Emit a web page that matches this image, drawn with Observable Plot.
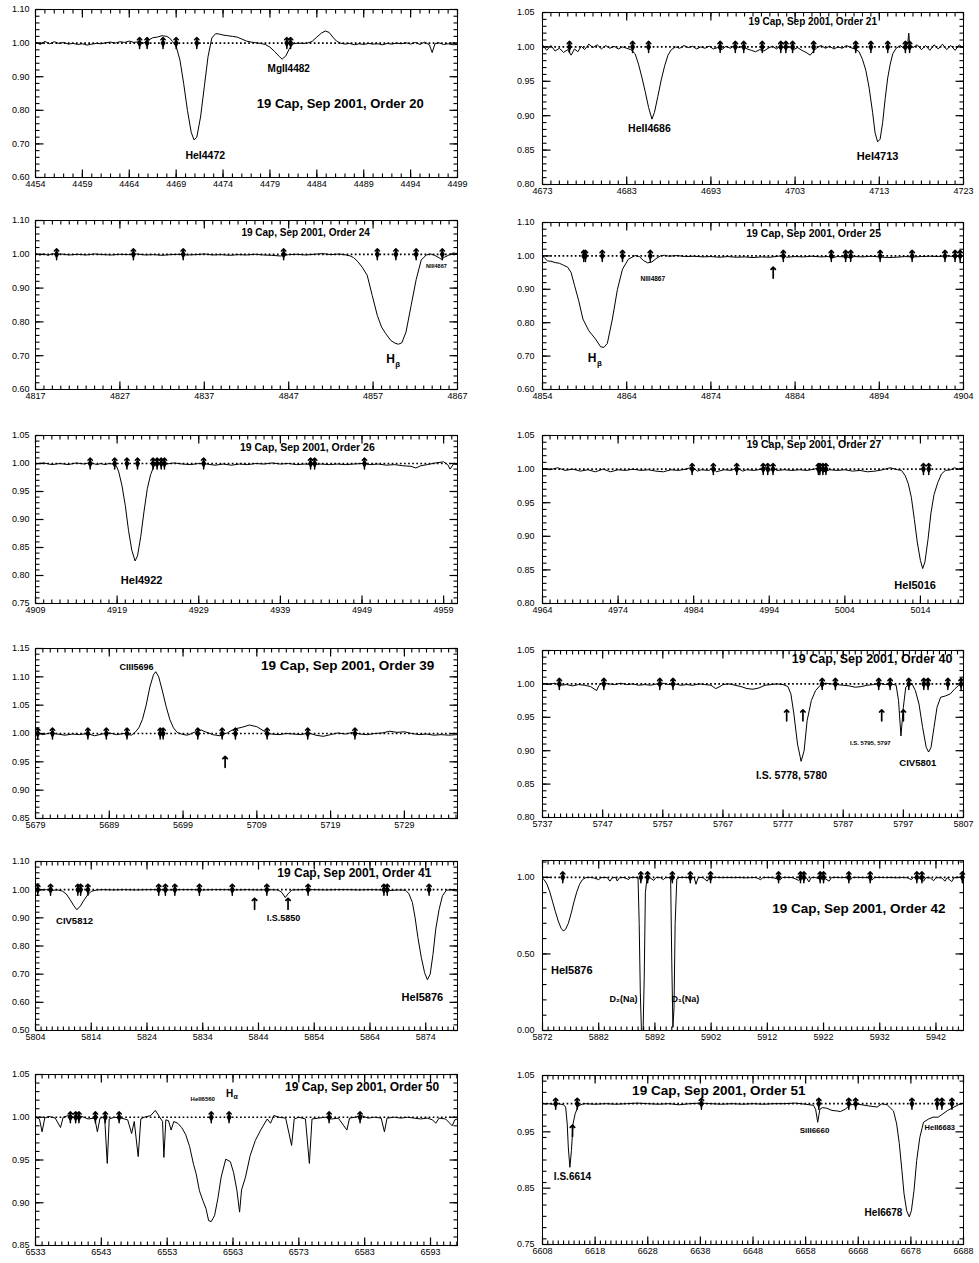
<!DOCTYPE html>
<html><head><meta charset="utf-8">
<script src="https://cdn.jsdelivr.net/npm/d3@7"></script>
<script src="https://cdn.jsdelivr.net/npm/@observablehq/plot@0.6"></script>
<style>
body{margin:0;background:#fff;}
#wrap{position:relative;width:979px;height:1263px;background:#fff;overflow:hidden;}
#wrap > div{position:absolute;}
</style></head><body><div id="wrap"></div>
<script>
// ---------- spectra: [wavelength (Å), normalized flux] ----------
const order20 = [[4454,1.003],[4454.5,0.996],[4455,1.005],[4455.5,0.998],[4456,1.004],[4456.5,0.999],[4457,1.002],[4457.5,0.997],[4458,0.999],[4458.5,0.996],[4459,0.998],[4459.5,0.994],[4460,0.997],[4460.5,0.999],[4461,0.998],[4461.5,1.001],[4462,1.003],[4462.5,1.0],[4463,1.004],[4463.5,1.002],[4464,1.006],[4464.5,1.002],[4465,1.004],[4465.5,1.0],[4466,1.008],[4466.5,1.016],[4467,1.018],[4467.5,1.022],[4468,1.02],[4468.3,1.015],[4468.6,1.005],[4469,0.99],[4469.4,0.95],[4469.8,0.88],[4470.2,0.8],[4470.6,0.735],[4470.9,0.712],[4471.2,0.72],[4471.6,0.78],[4472,0.87],[4472.4,0.96],[4472.8,1.015],[4473.2,1.028],[4473.6,1.027],[4474,1.024],[4474.5,1.022],[4475,1.02],[4475.5,1.018],[4476,1.012],[4476.5,1.006],[4477,1.003],[4477.5,1.001],[4478,0.999],[4478.5,0.996],[4479,0.988],[4479.5,0.975],[4480,0.96],[4480.3,0.952],[4480.7,0.962],[4481.1,0.985],[4481.5,0.998],[4482,1.0],[4482.5,0.999],[4483,1.0],[4483.5,1.005],[4484,1.018],[4484.5,1.03],[4484.9,1.036],[4485.3,1.032],[4485.7,1.018],[4486.1,1.006],[4486.5,1.0],[4487,0.997],[4487.5,0.999],[4488,0.995],[4488.5,0.998],[4489,0.996],[4489.5,0.999],[4490,0.997],[4490.5,0.998],[4491,0.995],[4491.5,0.999],[4492,0.997],[4492.5,1.0],[4493,0.998],[4493.5,1.001],[4494,0.997],[4494.5,1.002],[4495,0.996],[4495.5,1.003],[4496,0.995],[4496.3,0.972],[4496.6,0.998],[4497,1.001],[4497.5,0.996],[4498,0.998],[4498.5,0.995],[4499,0.996]];
const order21 = [[4673,1.003],[4673.5,0.995],[4674,1.002],[4674.5,0.994],[4675,0.998],[4675.5,0.992],[4676,0.996],[4676.4,0.988],[4676.8,0.997],[4677.2,0.993],[4677.6,1.001],[4678,0.996],[4678.5,1.004],[4679,0.999],[4679.5,1.003],[4680,0.997],[4680.5,1.002],[4681,0.998],[4681.5,1.001],[4682,0.997],[4682.5,1.0],[4683,0.998],[4683.5,0.996],[4684,0.99],[4684.4,0.975],[4684.8,0.956],[4685.2,0.935],[4685.6,0.912],[4686,0.895],[4686.3,0.905],[4686.7,0.928],[4687.1,0.952],[4687.5,0.972],[4687.9,0.988],[4688.3,0.996],[4688.8,1.0],[4689.3,0.998],[4689.8,1.002],[4690.3,0.999],[4690.8,1.001],[4691.3,0.997],[4691.8,1.0],[4692.3,0.998],[4692.8,1.001],[4693.3,0.997],[4693.8,0.999],[4694.3,0.996],[4694.8,1.001],[4695.3,0.998],[4695.8,1.002],[4696.3,0.999],[4696.8,1.001],[4697.3,0.997],[4697.8,0.995],[4698.3,0.993],[4698.8,0.996],[4699.3,0.994],[4699.8,0.998],[4700.3,1.001],[4700.8,0.997],[4701.3,1.002],[4701.8,0.998],[4702.3,1.0],[4702.8,0.996],[4703.3,0.999],[4703.8,0.995],[4704.3,0.992],[4704.8,0.988],[4705.2,0.994],[4705.6,0.999],[4706.1,1.002],[4706.6,0.998],[4707.1,1.001],[4707.6,0.997],[4708.1,1.0],[4708.6,0.998],[4709.1,1.002],[4709.6,0.999],[4710.1,0.997],[4710.6,0.993],[4711,0.982],[4711.4,0.966],[4711.8,0.94],[4712.2,0.905],[4712.5,0.875],[4712.8,0.862],[4713.1,0.866],[4713.4,0.89],[4713.7,0.925],[4714,0.955],[4714.3,0.975],[4714.6,0.99],[4715,0.998],[4715.5,1.002],[4716,0.997],[4716.4,1.008],[4716.5,1.02],[4716.6,1.004],[4717,0.999],[4717.5,1.003],[4718,0.996],[4718.5,1.002],[4719,0.995],[4719.5,1.003],[4720,0.997],[4720.5,1.004],[4721,0.996],[4721.5,1.002],[4722,0.995],[4722.5,1.003],[4723,0.998]];
const order24 = [[4817,1.002],[4817.5,0.998],[4818,1.001],[4818.5,0.997],[4819,1.002],[4819.5,0.999],[4820,1.001],[4821,0.998],[4822,1.0],[4823,0.998],[4824,1.001],[4825,0.999],[4826,0.998],[4827,1.0],[4828,0.999],[4829,1.001],[4830,0.998],[4831,0.999],[4832,0.997],[4833,0.999],[4834,1.0],[4835,0.998],[4836,0.999],[4837,1.001],[4838,0.998],[4839,0.999],[4840,0.997],[4841,0.999],[4842,0.998],[4843,1.0],[4844,0.998],[4845,0.997],[4846,0.995],[4846.5,0.997],[4847,0.999],[4848,1.0],[4849,0.998],[4850,1.0],[4851,1.002],[4852,0.999],[4853,1.001],[4853.8,0.998],[4854.3,0.995],[4854.7,0.99],[4855.2,0.978],[4855.7,0.962],[4856.3,0.938],[4856.9,0.878],[4857.5,0.819],[4858,0.785],[4858.5,0.765],[4859.1,0.745],[4859.6,0.737],[4860,0.734],[4860.4,0.738],[4860.9,0.77],[4861.5,0.848],[4862.1,0.925],[4862.7,0.983],[4863.3,0.998],[4863.8,1.001],[4864.3,0.997],[4864.8,0.99],[4865.1,0.985],[4865.5,0.992],[4866,0.998],[4866.5,1.004],[4867,1.002]];
const order25 = [[4854,1.0],[4854.3,0.992],[4854.6,0.985],[4855,0.984],[4855.5,0.98],[4856,0.978],[4856.5,0.972],[4857,0.966],[4857.4,0.95],[4857.8,0.912],[4858.3,0.866],[4858.8,0.811],[4859.5,0.776],[4860.3,0.751],[4860.9,0.728],[4861.3,0.726],[4861.7,0.738],[4862.3,0.811],[4862.9,0.9],[4863.5,0.96],[4864.2,0.99],[4865,1.001],[4865.5,0.998],[4866,0.986],[4866.5,0.979],[4867,0.982],[4867.5,0.992],[4868,1.0],[4868.5,1.002],[4869,0.999],[4870,1.001],[4871,0.998],[4872,0.999],[4873,0.997],[4874,0.998],[4875,0.996],[4876,0.998],[4877,0.996],[4878,0.997],[4879,0.995],[4880,0.997],[4881,0.996],[4882,0.999],[4882.6,1.001],[4883,0.996],[4884,0.998],[4885,0.997],[4886,0.999],[4887,0.997],[4888,0.998],[4888.5,0.995],[4889,0.998],[4890,0.997],[4890.6,0.994],[4891,0.998],[4892,0.997],[4893,0.999],[4894,0.997],[4895,0.995],[4896,0.996],[4897,0.998],[4898,0.997],[4899,0.998],[4900,0.999],[4901,0.998],[4902,1.0],[4903,0.998],[4904,1.0]];
const order26 = [[4909,0.999],[4910,1.001],[4911,0.998],[4912,1.0],[4913,0.998],[4914,1.001],[4915,0.999],[4915.7,1.002],[4916.5,0.998],[4917,1.0],[4917.5,0.998],[4918,1.0],[4918.5,0.999],[4918.9,0.996],[4919.2,0.985],[4919.6,0.96],[4920,0.925],[4920.4,0.88],[4920.8,0.845],[4921.2,0.826],[4921.5,0.835],[4921.9,0.87],[4922.3,0.915],[4922.7,0.955],[4923.1,0.98],[4923.5,0.995],[4924,1.0],[4924.5,1.002],[4925,0.999],[4926,1.001],[4927,0.999],[4928,0.998],[4929,1.0],[4930,0.999],[4931,0.997],[4932,0.999],[4933,0.997],[4934,0.999],[4935,0.998],[4936,1.0],[4937,0.999],[4938,1.001],[4939,0.999],[4940,1.0],[4941,0.998],[4942,0.999],[4943,0.998],[4944,0.999],[4945,0.998],[4946,0.999],[4947,0.998],[4948,0.999],[4949,1.0],[4950,0.998],[4951,0.999],[4952,0.997],[4953,0.998],[4954,0.996],[4955,0.995],[4955.6,0.992],[4956.2,0.996],[4957,0.998],[4958,1.001],[4959,1.003],[4959.5,0.998],[4959.8,0.99],[4960.2,0.999],[4960.7,0.998]];
const order27 = [[4964,1.001],[4965,0.999],[4966,1.002],[4967,0.998],[4968,1.0],[4969,0.997],[4970,0.999],[4971,0.996],[4972,1.0],[4973,0.996],[4974,0.999],[4975,0.998],[4976,1.0],[4977,0.998],[4978,0.999],[4979,0.997],[4980,0.996],[4981,0.999],[4982,0.998],[4983,1.0],[4983.8,1.003],[4984.5,0.997],[4985,0.999],[4986,0.998],[4986.6,1.002],[4987,0.996],[4988,0.999],[4989,0.998],[4989.7,1.002],[4990.5,0.997],[4991,0.999],[4992,0.998],[4993,1.0],[4993.5,1.003],[4994,0.997],[4994.5,1.002],[4995,0.998],[4996,0.999],[4997,0.998],[4998,0.999],[4999,0.998],[5000,1.0],[5000.7,1.003],[5001.2,0.996],[5002,0.999],[5003,0.998],[5004,0.999],[5005,0.997],[5006,0.998],[5007,0.996],[5008,0.997],[5009,0.999],[5010,1.002],[5011,0.999],[5011.5,0.998],[5012,0.99],[5012.4,0.978],[5012.8,0.958],[5013.2,0.925],[5013.6,0.89],[5014,0.864],[5014.3,0.852],[5014.6,0.862],[5015,0.895],[5015.4,0.935],[5015.8,0.962],[5016.3,0.98],[5016.8,0.993],[5017.3,0.998],[5018,0.999],[5018.5,1.002],[5019,1.0],[5019.7,1.002]];
const order39 = [[5679,1.002],[5680,0.998],[5681,1.001],[5682,0.999],[5683,0.997],[5684,0.999],[5685,0.998],[5686,1.0],[5687,0.996],[5688,0.999],[5689,1.001],[5690,0.998],[5691,1.0],[5692,0.997],[5692.5,1.002],[5693,1.01],[5693.5,1.025],[5694,1.05],[5694.5,1.082],[5695,1.104],[5695.3,1.109],[5695.7,1.1],[5696.2,1.075],[5696.7,1.048],[5697.2,1.025],[5697.7,1.01],[5698.2,1.002],[5698.8,0.999],[5699.5,0.997],[5700,0.999],[5700.5,1.002],[5701,1.004],[5701.5,1.006],[5702,1.003],[5702.5,1.001],[5703,0.998],[5704,0.996],[5704.5,0.999],[5705,1.001],[5705.5,1.005],[5706,1.008],[5707,1.011],[5708,1.015],[5709,1.012],[5710,1.004],[5710.5,1.0],[5711,0.999],[5712,0.998],[5713,1.0],[5714,0.999],[5715,0.998],[5716,1.001],[5717,0.997],[5718,0.995],[5719,0.998],[5720,1.001],[5721,0.999],[5722,1.002],[5723,0.999],[5724,0.998],[5725,1.0],[5726,1.001],[5727,1.004],[5728,1.002],[5729,1.003],[5730,1.0],[5731,0.998],[5732,0.999],[5733,0.997],[5734,0.998],[5735,0.997],[5736.2,0.998]];
const order40 = [[5737,1.001],[5738,0.999],[5739,1.001],[5740,0.998],[5741,0.999],[5742,0.997],[5743,0.999],[5744,0.998],[5745,0.996],[5746,0.99],[5746.4,0.998],[5747,1.002],[5748,1.0],[5749,0.999],[5750,1.001],[5751,0.999],[5752,1.0],[5753,0.998],[5754,0.999],[5755,0.998],[5756,1.0],[5757,1.001],[5758,0.999],[5759,1.0],[5760,0.998],[5761,0.999],[5762,0.998],[5763,1.0],[5764,0.999],[5765,0.998],[5765.8,0.993],[5766.5,0.996],[5767,0.999],[5768,1.0],[5769,0.998],[5770,0.996],[5771,0.993],[5772,0.992],[5773,0.994],[5774,0.998],[5775,0.999],[5776,1.0],[5777,0.999],[5777.8,0.996],[5778.3,0.985],[5778.8,0.955],[5779.4,0.91],[5780,0.884],[5780.5,0.9],[5781,0.945],[5781.7,0.975],[5782.4,0.99],[5783.2,0.998],[5784,1.001],[5785,1.0],[5786,0.999],[5787,0.998],[5788,0.997],[5789,0.995],[5790,0.996],[5791,0.998],[5792,0.999],[5793,1.001],[5794,0.999],[5795,1.0],[5795.8,0.998],[5796.2,0.975],[5796.6,0.922],[5797,0.965],[5797.4,0.995],[5798,1.0],[5798.5,0.999],[5799,0.99],[5799.6,0.97],[5800.2,0.935],[5800.8,0.905],[5801.2,0.898],[5801.6,0.905],[5802.1,0.935],[5802.6,0.965],[5803.2,0.98],[5804,0.982],[5804.8,0.985],[5805.5,0.992],[5806.2,0.998],[5807,1.0]];
const order41 = [[5804,1.001],[5805,0.999],[5806,1.0],[5807,0.998],[5808,0.999],[5808.8,0.995],[5809.5,0.985],[5810.2,0.965],[5810.8,0.945],[5811.4,0.929],[5812,0.94],[5812.6,0.96],[5813.3,0.98],[5814,0.994],[5815,0.999],[5816,1.0],[5818,0.999],[5820,1.0],[5822,0.999],[5824,1.0],[5826,1.0],[5828,0.999],[5830,1.0],[5832,1.0],[5834,0.999],[5836,1.0],[5838,1.0],[5840,0.999],[5842,1.0],[5844,0.999],[5846,1.0],[5847.5,0.999],[5848.2,0.99],[5848.8,0.972],[5849.3,0.985],[5850,0.999],[5852,1.0],[5854,1.0],[5856,0.999],[5858,1.0],[5860,1.0],[5862,0.999],[5864,1.0],[5866,0.999],[5867.5,0.997],[5869,0.999],[5870.4,0.998],[5871,0.985],[5871.6,0.955],[5872.1,0.9],[5872.6,0.83],[5873.2,0.76],[5873.8,0.705],[5874.3,0.68],[5874.8,0.7],[5875.3,0.77],[5875.8,0.86],[5876.4,0.93],[5877,0.978],[5877.7,0.998],[5878.5,1.0],[5879.2,0.996],[5879.7,0.995]];
const order42 = [[5872,0.995],[5872.3,0.985],[5872.8,0.955],[5873.3,0.905],[5873.8,0.84],[5874.3,0.775],[5874.8,0.715],[5875.3,0.668],[5875.7,0.65],[5876.1,0.66],[5876.6,0.7],[5877.1,0.765],[5877.6,0.84],[5878.1,0.905],[5878.6,0.955],[5879.1,0.985],[5879.7,0.998],[5880.5,1.0],[5881,0.998],[5882,0.985],[5882.4,0.998],[5883.5,0.999],[5884,0.975],[5884.4,0.997],[5885,1.0],[5885.3,0.976],[5885.7,0.998],[5886.5,0.999],[5887.3,0.986],[5887.7,0.999],[5888.5,1.0],[5889,0.995],[5889.2,0.7],[5889.4,0.25],[5889.6,0.0],[5889.9,0.0],[5890.1,0.35],[5890.3,0.9],[5890.6,0.998],[5891,1.0],[5891.8,0.98],[5892.2,0.999],[5893,0.998],[5893.5,0.985],[5893.9,0.999],[5894.5,0.998],[5894.8,0.99],[5895,0.45],[5895.2,0.02],[5895.4,0.15],[5895.6,0.7],[5895.9,0.99],[5896.3,0.999],[5897,1.0],[5898,0.998],[5899,0.999],[5899.3,0.955],[5899.7,0.998],[5900.5,1.0],[5901.3,0.975],[5901.7,0.999],[5903,1.0],[5904,0.998],[5905,0.999],[5906,0.998],[5907,0.999],[5908,0.997],[5909,0.998],[5910,0.999],[5910.8,0.985],[5911.2,0.998],[5912,0.999],[5913,0.998],[5914.3,0.984],[5914.7,0.999],[5915.5,1.0],[5916.5,0.998],[5917.6,0.98],[5918,0.999],[5919,0.995],[5919.4,0.97],[5919.8,0.998],[5920.5,0.999],[5921.5,0.988],[5922,0.998],[5923,0.975],[5923.4,0.998],[5924,1.0],[5925,0.998],[5926,0.999],[5926.8,0.985],[5927.2,0.999],[5928,1.0],[5929,0.998],[5930,0.999],[5930.6,0.982],[5931,0.999],[5932,1.0],[5933,0.998],[5934,0.999],[5935,0.997],[5936,0.999],[5937,0.997],[5937.6,0.985],[5938,0.999],[5939,0.996],[5939.8,0.975],[5940.2,0.998],[5941,0.996],[5941.6,0.978],[5942,0.998],[5943,0.997],[5943.6,0.975],[5944,0.998],[5944.8,0.972],[5945.2,0.997],[5946,0.999],[5946.9,1.002]];
const order50 = [[6533,1.0],[6533.6,0.998],[6534,0.983],[6534.4,0.999],[6535,1.001],[6536,0.999],[6536.8,0.988],[6537.2,1.0],[6538,1.002],[6539,0.999],[6540,1.001],[6541,0.998],[6542,0.999],[6542.4,0.983],[6542.8,0.999],[6543.5,1.0],[6543.9,0.946],[6544.2,0.998],[6545,1.0],[6546,0.999],[6547,0.997],[6547.6,0.981],[6548,0.995],[6548.6,0.954],[6549,0.998],[6549.5,1.0],[6550.5,1.002],[6551.2,1.008],[6551.8,1.001],[6552.3,0.995],[6552.5,0.953],[6552.8,0.997],[6553.2,0.996],[6553.6,0.985],[6554,0.995],[6554.6,0.993],[6555.2,0.988],[6555.8,0.98],[6556.4,0.966],[6557,0.945],[6557.4,0.934],[6557.9,0.914],[6558.4,0.903],[6558.9,0.893],[6559.3,0.879],[6559.7,0.878],[6560.2,0.885],[6560.7,0.905],[6561.2,0.93],[6561.9,0.951],[6562.6,0.948],[6563.1,0.935],[6563.6,0.914],[6564,0.889],[6564.3,0.915],[6564.9,0.93],[6565.6,0.955],[6566.4,0.973],[6567.2,0.985],[6568.2,0.998],[6568.7,0.993],[6569.2,1.002],[6570,1.0],[6571,0.999],[6571.9,0.967],[6572.3,0.998],[6573,1.0],[6574,0.998],[6574.6,0.946],[6575,0.998],[6576,0.999],[6577,1.0],[6578,0.998],[6579,0.999],[6580.3,0.985],[6580.7,0.999],[6581.5,1.0],[6582.5,1.002],[6583.5,0.999],[6584.5,1.0],[6585.5,0.999],[6586,0.983],[6586.4,0.999],[6587.5,1.0],[6588.5,0.999],[6589.5,1.0],[6590.5,0.999],[6591.5,0.998],[6592.5,0.999],[6593.3,0.997],[6593.8,0.993],[6594.3,0.999],[6595.3,0.998],[6596.3,0.99],[6596.7,0.997],[6597.1,0.998]];
const order51 = [[6608,1.001],[6608.5,0.999],[6609,1.0],[6610,0.999],[6611,1.0],[6612,0.998],[6612.4,0.994],[6612.7,0.964],[6612.9,0.923],[6613.2,0.887],[6613.5,0.917],[6613.8,0.964],[6614.2,0.982],[6614.8,0.996],[6615.5,0.999],[6616,1.0],[6618,0.999],[6620,1.0],[6622,0.999],[6624,1.0],[6626,1.001],[6628,1.0],[6630,0.999],[6632,1.0],[6634,0.998],[6636,1.0],[6638,1.001],[6640,1.0],[6642,0.999],[6644,1.0],[6646,0.999],[6648,1.0],[6650,0.999],[6652,1.0],[6654,1.0],[6656,1.001],[6658,0.999],[6659.5,0.997],[6659.9,0.99],[6660.3,0.967],[6660.7,0.99],[6661.2,0.993],[6662,0.992],[6663,0.988],[6664,0.987],[6664.6,0.986],[6665.5,0.99],[6666.5,0.998],[6668,0.999],[6670,0.996],[6671.6,0.994],[6672.5,1.0],[6673.5,0.998],[6674.7,0.987],[6675.3,0.964],[6675.8,0.929],[6676.3,0.881],[6676.7,0.84],[6677.2,0.81],[6677.7,0.799],[6678.1,0.81],[6678.6,0.846],[6679.1,0.899],[6679.7,0.94],[6680.4,0.967],[6681.4,0.973],[6682.2,0.976],[6683.2,0.976],[6684.1,0.982],[6685,0.988],[6686,0.993],[6687,0.998],[6688,1.001]];

// ---------- line-identification markers on the continuum (Å) ----------
const marks20 = [4465.1,4465.9,4467.6,4469.0,4471.2,4480.8,4481.2];
const marks21 = [4676.2,4683.7,4685.6,4694.1,4695.9,4696.9,4699.1,4701.3,4701.9,4702.7,4705.2,4710.2,4712.0,4714.0,4716.1,4716.6];
const marks24 = [4819.5,4828.6,4834.5,4846.4,4857.5,4859.7,4862.1,4865.2];
const marks25 = [4858.9,4859.1,4861.1,4863.5,4866.8,4882.6,4888.3,4890.0,4890.6,4894.1,4897.9,4901.8,4903.0,4903.6];
const marks26 = [4915.7,4918.7,4920.2,4921.5,4923.4,4923.9,4924.4,4924.8,4929.6,4942.7,4943.2,4949.3];
const marks27 = [4983.8,4986.6,4989.7,4993.2,4993.8,4994.5,5000.5,5000.7,5001.1,5001.5,5014.4,5015.1];
const marks39 = [5679.3,5681.3,5686.1,5688.6,5691.4,5695.9,5696.3,5701.0,5704.3,5706.1,5710.4,5715.9,5722.3];
const marks40 = [5739.8,5747.2,5756.5,5758.7,5783.5,5785.7,5792.9,5794.8,5797.9,5800.4,5801.1,5804.4,5806.6];
const marks41 = [5804.4,5806.7,5811.6,5812.1,5813.4,5826.1,5827.3,5829.0,5833.4,5839.3,5845.5,5852.9,5866.5,5867.1,5874.6];
const marks42 = [5875.6,5889.5,5890.7,5895.1,5898.3,5901.9,5914.0,5917.9,5918.5,5921.4,5922.0,5926.5,5930.3,5938.6,5939.5,5946.7];
const marks50 = [6538.3,6539.1,6539.6,6542.1,6543.6,6545.7,6559.7,6562.4,6577.6,6582.3];
const marks51 = [6610.5,6614.6,6638.2,6660.5,6666.2,6667.5,6678.2,6683.0,6683.9,6685.8];

// ---------- lone arrows below the continuum [Å, flux] ----------
const arrows25 = [[4881.4,0.95]];
const arrows39 = [[5704.7,0.95]];
const arrows40 = [[5777.6,0.953],[5780.3,0.953],[5793.4,0.953],[5797.0,0.953]];
const arrows41 = [[5843.3,0.95],[5849.3,0.95]];
const arrows51 = [[6613.7,0.952]];

// ---------- tick values ----------
const xt20 = [4454,4459,4464,4469,4474,4479,4484,4489,4494,4499];
const xt21 = [4673,4683,4693,4703,4713,4723];
const xt24 = [4817,4827,4837,4847,4857,4867];
const xt25 = [4854,4864,4874,4884,4894,4904];
const xt26 = [4909,4919,4929,4939,4949,4959];
const xt27 = [4964,4974,4984,4994,5004,5014];
const xt39 = [5679,5689,5699,5709,5719,5729];
const xt40 = [5737,5747,5757,5767,5777,5787,5797,5807];
const xt41 = [5804,5814,5824,5834,5844,5854,5864,5874];
const xt42 = [5872,5882,5892,5902,5912,5922,5932,5942];
const xt50 = [6533,6543,6553,6563,6573,6583,6593];
const xt51 = [6608,6618,6628,6638,6648,6658,6668,6678,6688];
const ytA = [0.60,0.70,0.80,0.90,1.00,1.10];
const ytB = [0.80,0.85,0.90,0.95,1.00,1.05];
const ytE = [0.75,0.80,0.85,0.90,0.95,1.00,1.05];
const ytG = [0.85,0.90,0.95,1.00,1.05,1.10,1.15];
const ytI = [0.50,0.60,0.70,0.80,0.90,1.00,1.10];
const ytJ = [0.00,0.50,1.00];
const ytK = [0.85,0.90,0.95,1.00,1.05];
const ytL = [0.75,0.85,0.95,1.05];

// ---------- text annotations {t, x (Å), y (flux)} ----------
const title = n => `19 Cap, Sep 2001, Order ${n}`;
const lab20 = [{t:title(20),x:4486.5,y:0.819},{t:"HeI4472",x:4472.1,y:0.665},{t:"MgII4482",x:4481.0,y:0.925}];
const lab21 = [{t:title(21),x:4705.1,y:1.037},{t:"HeII4686",x:4685.7,y:0.881},{t:"HeI4713",x:4712.8,y:0.841}];
const lab24 = [{t:title(24),x:4849.0,y:1.065},{t:"H",x:4859.06,y:0.689},{t:"β",x:4859.9,y:0.675},{t:"NIII4867",x:4864.5,y:0.964}];
const lab25 = [{t:title(25),x:4886.2,y:1.067},{t:"H",x:4859.9,y:0.693},{t:"β",x:4860.75,y:0.679},{t:"NIII4867",x:4867.1,y:0.932}];
const lab26 = [{t:title(26),x:4942.3,y:1.029},{t:"HeI4922",x:4922.0,y:0.791}];
const lab27 = [{t:title(27),x:4999.9,y:1.037},{t:"HeI5016",x:5013.3,y:0.827}];
const lab39 = [{t:title(39),x:5721.3,y:1.120},{t:"CIII5696",x:5692.7,y:1.118}];
const lab40 = [{t:title(40),x:5791.8,y:1.038},{t:"I.S. 5778, 5780",x:5778.4,y:0.863},{t:"I.S. 5795, 5797",x:5791.5,y:0.912},{t:"CIV5801",x:5799.4,y:0.882}];
const lab41 = [{t:title(41),x:5861.2,y:1.057},{t:"CIV5812",x:5811.0,y:0.890},{t:"I.S.5850",x:5848.5,y:0.900},{t:"HeI5876",x:5873.4,y:0.617}];
const lab42 = [{t:title(42),x:5928.3,y:0.796},{t:"HeI5876",x:5877.2,y:0.392},{t:"D₂(Na)",x:5886.4,y:0.202},{t:"D₁(Na)",x:5897.4,y:0.202}];
const lab50 = [{t:title(50),x:6582.6,y:1.035},{t:"H",x:6562.5,y:1.028},{t:"α",x:6563.4,y:1.0235},{t:"HeII6560",x:6558.4,y:1.021}];
const lab51 = [{t:title(51),x:6641.5,y:1.023},{t:"I.S.6614",x:6613.7,y:0.870},{t:"SiII6660",x:6659.7,y:0.952},{t:"HeI6678",x:6672.8,y:0.806},{t:"HeII6683",x:6683.5,y:0.958}];

// ---------- panel layout (page pixels) and styling ----------
const panels = [
  {side:"L", top:9,   bottom:177,  xd:[4454,4499],   yd:[0.60,1.10], xt:xt20, yt:ytA, ym:0.02, sp:order20, mk:marks20, ar:[],       lab:lab20, fs:[13,10.5,10]},
  {side:"R", top:12,  bottom:184,  xd:[4673,4723],   yd:[0.80,1.05], xt:xt21, yt:ytB, ym:0.01, sp:order21, mk:marks21, ar:[],       lab:lab21, fs:[10,10.5,11]},
  {side:"L", top:220, bottom:389,  xd:[4817,4867],   yd:[0.60,1.10], xt:xt24, yt:ytA, ym:0.02, sp:order24, mk:marks24, ar:[],       lab:lab24, fs:[10,12,8,5.5]},
  {side:"R", top:222, bottom:389,  xd:[4854,4904],   yd:[0.60,1.10], xt:xt25, yt:ytA, ym:0.02, sp:order25, mk:marks25, ar:arrows25, lab:lab25, fs:[10.5,12,8,6.5]},
  {side:"L", top:435, bottom:603,  xd:[4909,4960.7], yd:[0.75,1.05], xt:xt26, yt:ytE, ym:0.01, sp:order26, mk:marks26, ar:[],       lab:lab26, fs:[10.5,11]},
  {side:"R", top:435, bottom:603,  xd:[4964,5019.7], yd:[0.80,1.05], xt:xt27, yt:ytB, ym:0.01, sp:order27, mk:marks27, ar:[],       lab:lab27, fs:[10.5,11]},
  {side:"L", top:648, bottom:818,  xd:[5679,5736.2], yd:[0.85,1.15], xt:xt39, yt:ytG, ym:0.01, sp:order39, mk:marks39, ar:arrows39, lab:lab39, fs:[13.5,9]},
  {side:"R", top:650, bottom:817,  xd:[5737,5807],   yd:[0.80,1.05], xt:xt40, yt:ytB, ym:0.01, sp:order40, mk:marks40, ar:arrows40, lab:lab40, fs:[12.5,10.5,6,9.5]},
  {side:"L", top:861, bottom:1030, xd:[5804,5879.7], yd:[0.50,1.10], xt:xt41, yt:ytI, ym:0.02, sp:order41, mk:marks41, ar:arrows41, lab:lab41, fs:[12,9.5,9,11]},
  {side:"R", top:860, bottom:1030, xd:[5872,5946.9], yd:[0.00,1.11], xt:xt42, yt:ytJ, ym:0.10, sp:order42, mk:marks42, ar:[],       lab:lab42, fs:[13.5,11,9,9]},
  {side:"L", top:1074,bottom:1245, xd:[6533,6597.1], yd:[0.85,1.05], xt:xt50, yt:ytK, ym:0.01, sp:order50, mk:marks50, ar:[],       lab:lab50, fs:[12,10,7,6]},
  {side:"R", top:1075,bottom:1244, xd:[6608,6688],   yd:[0.75,1.05], xt:xt51, yt:ytL, ym:0.02, sp:order51, mk:marks51, ar:arrows51, lab:lab51, fs:[13.5,10,8,10,7.5]}
];

const W = 489;
const wrap = document.getElementById("wrap");
for (const p of panels) {
  const isL = p.side === "L";
  const mL = isL ? 35 : 52, mR = isL ? 32 : 16, mT = 10, mB = 22;
  const fh = p.bottom - p.top, fw = W - mL - mR;
  const H = fh + mT + mB;
  const [x0, x1] = p.xd, [y0, y1] = p.yd;
  const dy = px => px * (y1 - y0) / fh;
  const dx = px => px * (x1 - x0) / fw;
  const pts = p.sp.map(([x, y]) => ({x, y}));
  const xMinor = d3.range(Math.ceil(x0), x1 + 1e-9, 1);
  const yMinor = d3.range(Math.round(y0 / p.ym), Math.floor(y1 / p.ym + 1e-6) + 1).map(i => +(i * p.ym).toFixed(4));
  const xTickSegs = (vals, len) => vals.flatMap(v => [
    {xa: v, xb: v, ya: y0, yb: y0 + dy(len)},
    {xa: v, xb: v, ya: y1, yb: y1 - dy(len)}
  ]);
  const yTickSegs = (vals, len) => vals.flatMap(v => [
    {xa: x0, xb: x0 + dx(len), ya: v, yb: v},
    {xa: x1, xb: x1 - dx(len), ya: v, yb: v}
  ]);
  const minorSegs = [...xTickSegs(xMinor, 4), ...yTickSegs(yMinor, 4)];
  const majorSegs = [...xTickSegs(p.xt, 8), ...yTickSegs(p.yt, 8)];
  const marks = [
    Plot.ruleY([1], {stroke: "#000", strokeWidth: 1.7, strokeDasharray: "1.7,2.4"}),
    Plot.line(pts, {x: "x", y: "y", stroke: "#000", strokeWidth: 1}),
    Plot.vector(p.mk, {x: d => d, y: () => 1, length: 11, anchor: "middle", stroke: "#000", strokeWidth: 1.5}),
    Plot.dot(p.mk, {x: d => d, y: () => 1, symbol: "diamond", r: 2.7, fill: "#000"}),
    Plot.vector(p.ar, {x: d => d[0], y: d => d[1], length: 11, anchor: "middle", stroke: "#000", strokeWidth: 1.7}),
    Plot.frame({stroke: "#000", strokeWidth: 1}),
    // inward minor / major ticks on all four sides
    Plot.link(minorSegs, {x1: "xa", x2: "xb", y1: "ya", y2: "yb", stroke: "#000", strokeWidth: 1.1}),
    Plot.link(majorSegs, {x1: "xa", x2: "xb", y1: "ya", y2: "yb", stroke: "#000", strokeWidth: 1.2})
  ];
  p.lab.forEach((l, i) => {
    marks.push(Plot.text([l], {x: "x", y: "y", text: "t", fontSize: p.fs[i], fontWeight: "bold", fill: "#000", textAnchor: "middle"}));
  });
  const chart = Plot.plot({
    width: W, height: H,
    marginLeft: mL, marginRight: mR, marginTop: mT, marginBottom: mB,
    style: {fontFamily: "'Liberation Sans', Arial, sans-serif", fontSize: "9px", background: "transparent", color: "#000", overflow: "visible"},
    x: {domain: p.xd, ticks: p.xt, tickSize: 0, tickPadding: 3, tickFormat: d => String(d), label: null},
    y: {domain: p.yd, ticks: p.yt, tickSize: 0, tickPadding: isL ? 6 : 8, tickFormat: d3.format(".2f"), label: null},
    marks
  });
  const div = document.createElement("div");
  div.style.left = (isL ? 0 : 490) + "px";
  div.style.top = (p.top - mT) + "px";
  div.appendChild(chart);
  wrap.appendChild(div);
}
</script>
</body></html>
